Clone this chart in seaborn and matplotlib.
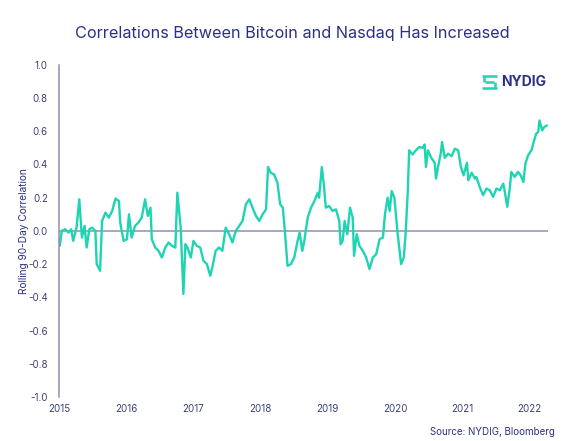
import numpy as np
import pandas as pd
import matplotlib
matplotlib.use('Agg')
import matplotlib.pyplot as plt
from matplotlib.lines import Line2D
import seaborn as sns

# decimal years
years = [
    2015.00, 2015.01, 2015.04, 2015.09, 2015.14, 2015.18, 2015.21, 2015.26, 2015.30, 2015.34,
    2015.38, 2015.41, 2015.45, 2015.49, 2015.54, 2015.56, 2015.61, 2015.64, 2015.69, 2015.74,
    2015.79, 2015.84, 2015.89, 2015.91, 2015.96, 2016.01, 2016.04, 2016.08, 2016.13, 2016.18,
    2016.23, 2016.28, 2016.32, 2016.36, 2016.38, 2016.43, 2016.48, 2016.53, 2016.58, 2016.63,
    2016.68, 2016.73, 2016.76, 2016.81, 2016.85, 2016.88, 2016.91, 2016.96, 2017.00, 2017.05,
    2017.10, 2017.15, 2017.20, 2017.25, 2017.28, 2017.33, 2017.38, 2017.43, 2017.48, 2017.53,
    2017.58, 2017.63, 2017.68, 2017.73, 2017.78, 2017.83, 2017.88, 2017.93, 2017.98, 2018.03,
    2018.08, 2018.11, 2018.15, 2018.20, 2018.25, 2018.29, 2018.33, 2018.36, 2018.40, 2018.45,
    2018.50, 2018.55, 2018.58, 2018.62, 2018.65, 2018.70, 2018.75, 2018.80, 2018.85, 2018.87,
    2018.91, 2018.94, 2018.97, 2019.02, 2019.07, 2019.12, 2019.17, 2019.19, 2019.22, 2019.25,
    2019.29, 2019.33, 2019.37, 2019.39, 2019.43, 2019.47, 2019.52, 2019.57, 2019.62, 2019.67,
    2019.72, 2019.77, 2019.82, 2019.85, 2019.89, 2019.92, 2019.95, 2019.99, 2020.04, 2020.09,
    2020.13, 2020.16, 2020.19, 2020.21, 2020.26, 2020.31, 2020.36, 2020.41, 2020.44, 2020.46,
    2020.49, 2020.54, 2020.59, 2020.61, 2020.64, 2020.68, 2020.70, 2020.74, 2020.79, 2020.84,
    2020.89, 2020.94, 2020.98, 2021.02, 2021.07, 2021.09, 2021.14, 2021.19, 2021.21, 2021.26,
    2021.31, 2021.36, 2021.41, 2021.46, 2021.51, 2021.56, 2021.61, 2021.63, 2021.67, 2021.71,
    2021.73, 2021.78, 2021.83, 2021.87, 2021.91, 2021.94, 2021.98, 2022.03, 2022.07, 2022.10,
    2022.13, 2022.15, 2022.19, 2022.22, 2022.26,
]
corr = [
    -0.05, -0.09, 0.00, 0.01, -0.01, 0.01, -0.06, 0.02, 0.19, -0.04,
    0.03, -0.10, 0.01, 0.02, 0.00, -0.20, -0.24, 0.06, 0.11, 0.08,
    0.12, 0.195, 0.18, 0.05, -0.06, -0.05, 0.10, -0.04, 0.03, 0.05,
    0.08, 0.19, 0.09, 0.14, -0.05, -0.10, -0.12, -0.16, -0.10, -0.07,
    -0.09, -0.10, 0.23, 0.02, -0.38, -0.08, -0.10, -0.16, -0.06, -0.09,
    -0.10, -0.18, -0.20, -0.27, -0.22, -0.12, -0.10, -0.12, 0.02, -0.02,
    -0.07, 0.00, 0.03, 0.06, 0.16, 0.19, 0.14, 0.09, 0.06, 0.10,
    0.13, 0.385, 0.35, 0.34, 0.29, 0.16, 0.14, 0.00, -0.21, -0.20,
    -0.16, -0.06, -0.01, -0.12, -0.06, 0.08, 0.14, 0.18, 0.23, 0.20,
    0.385, 0.28, 0.14, 0.15, 0.12, 0.13, 0.06, -0.08, -0.06, 0.06,
    -0.02, 0.14, 0.08, -0.15, -0.02, -0.09, -0.12, -0.16, -0.23, -0.16,
    -0.14, -0.05, -0.04, 0.10, 0.20, 0.12, 0.24, 0.20, -0.02, -0.20,
    -0.16, 0.00, 0.24, 0.485, 0.46, 0.485, 0.505, 0.50, 0.52, 0.385,
    0.485, 0.44, 0.41, 0.315, 0.385, 0.465, 0.535, 0.44, 0.465, 0.45,
    0.495, 0.485, 0.385, 0.335, 0.41, 0.305, 0.35, 0.315, 0.325, 0.265,
    0.215, 0.255, 0.245, 0.205, 0.255, 0.245, 0.285, 0.245, 0.145, 0.265,
    0.355, 0.325, 0.355, 0.335, 0.295, 0.405, 0.455, 0.485, 0.545, 0.585,
    0.595, 0.665, 0.605, 0.625, 0.635,
]
year_ticks = [2015, 2016, 2017, 2018, 2019, 2020, 2021, 2022]
y_ticks = [-1.0, -0.8, -0.6, -0.4, -0.2, 0.0, 0.2, 0.4, 0.6, 0.8, 1.0]

df = pd.DataFrame({'year': years, 'corr': corr})

sns.set_style('white')
plt.rcParams['font.family'] = ['Inter', 'DejaVu Sans']

navy = '#2b2f86'
teal = '#1fd4b2'
grey = '#8f8fae'

fig = plt.figure(figsize=(5.85, 4.41), dpi=100)
ax = fig.add_axes([0.101, 0.0998, 0.835, 0.7532])

ax.axhline(0, color=grey, lw=1.1, zorder=1)
sns.lineplot(data=df, x='year', y='corr', ax=ax, color=teal, lw=1.7, zorder=2)

ax.set_xlim(2015, 2022.27)
ax.set_ylim(-1.0, 1.0)
ax.set_xticks(year_ticks)
ax.set_xticklabels([str(y) for y in year_ticks])
ax.set_yticks(y_ticks)
ax.set_yticklabels([f'{v:.1f}' for v in y_ticks])
ax.tick_params(axis='both', length=0, labelsize=7, labelcolor='#3d3f78')
ax.tick_params(axis='y', pad=8)
ax.tick_params(axis='x', pad=5)
ax.set_xlabel('')
ax.set_ylabel('Rolling 90-Day Correlation', fontsize=7.3, color=navy)
ax.yaxis.set_label_coords(-0.061, 0.5)

for s in ['top', 'right', 'bottom']:
    ax.spines[s].set_visible(False)
ax.spines['left'].set_color(grey)
ax.spines['left'].set_linewidth(1.1)
ax.grid(False)

fig.text(0.5, 0.925, 'Correlations Between Bitcoin and Nasdaq Has Increased',
         ha='center', va='center', fontsize=11.7, color=navy)
fig.text(0.949, 0.008, 'Source: NYDIG, Bloomberg', ha='right', va='bottom',
         fontsize=7, color=navy)

# logo
fig.text(0.857, 0.814, 'NYDIG', ha='left', va='center', fontsize=10,
         fontweight='bold', color=navy)
logo = [
    ([0.824, 0.850], [0.828, 0.828]),
    ([0.824, 0.850], [0.800, 0.800]),
    ([0.829, 0.845], [0.814, 0.814]),
    ([0.827, 0.827], [0.828, 0.814]),
    ([0.847, 0.847], [0.814, 0.800]),
]
for lx, ly in logo:
    fig.add_artist(Line2D(lx, ly, color=teal, lw=1.8, solid_capstyle='butt',
                          transform=fig.transFigure))

fig.savefig('out.png', dpi=100)
